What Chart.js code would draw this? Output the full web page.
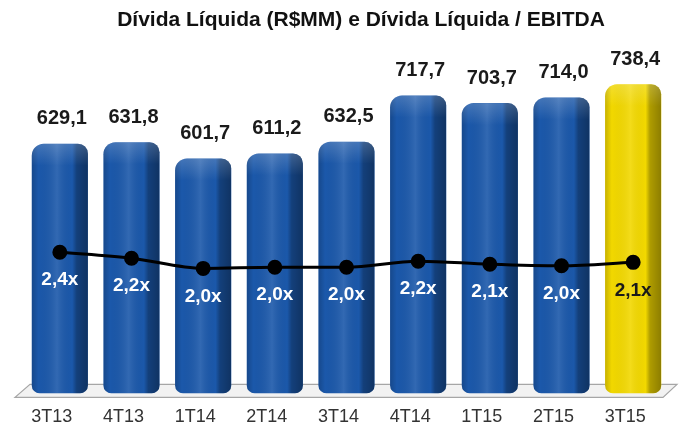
<!DOCTYPE html>
<html>
<head>
<meta charset="utf-8">
<script src="https://cdn.jsdelivr.net/npm/chart.js@4"></script>
<style>
  html, body { margin: 0; padding: 0; background: #fff; }
  #wrap { width: 685px; height: 430px; position: relative; }
</style>
</head>
<body>
<div id="wrap"><canvas id="chart" width="685" height="430"></canvas></div>
<script>
const chartTitle = "Dívida Líquida (R$MM) e Dívida Líquida / EBITDA";
const quarters = ["3T13", "4T13", "1T14", "2T14", "3T14", "4T14", "1T15", "2T15", "3T15"];
const dividaLiquida = [629.1, 631.8, 601.7, 611.2, 632.5, 717.7, 703.7, 714.0, 738.4];
const dividaEbitda = [2.40, 2.24, 1.97, 2.00, 2.00, 2.16, 2.08, 2.04, 2.13];
const dividaEbitdaLabels = ["2,4x", "2,2x", "2,0x", "2,0x", "2,0x", "2,2x", "2,1x", "2,0x", "2,1x"];

const blue = "#1b58aa";
const yellow = "#f2d800";
const barColors = quarters.map((q, i) => i === quarters.length - 1 ? yellow : blue);
const FONT = "'Liberation Sans', Arial, sans-serif";
const yMin = 170;

// floor plate under the bars
const floorPlugin = {
  id: "floor",
  beforeDatasetsDraw(chart) {
    const { ctx, chartArea } = chart;
    const b = chartArea.bottom;
    ctx.save();
    ctx.beginPath();
    ctx.moveTo(chartArea.left + 6, b - 9);
    ctx.lineTo(chartArea.right + 8, b - 9);
    ctx.lineTo(chartArea.right - 6, b + 4);
    ctx.lineTo(chartArea.left - 9, b + 4);
    ctx.closePath();
    ctx.fillStyle = "#f2f2f2";
    ctx.fill();
    ctx.strokeStyle = "#a6a6a6";
    ctx.lineWidth = 1.2;
    ctx.stroke();
    ctx.restore();
  }
};

// shading on the bars to get the 3D look
const shadePlugin = {
  id: "shade",
  afterDatasetDraw(chart, args) {
    if (args.index !== 0) return;
    const { ctx } = chart;
    args.meta.data.forEach(bar => {
      const left = bar.x - bar.width / 2;
      const right = bar.x + bar.width / 2;
      const top = bar.y;
      const bottom = Math.min(bar.base, chart.chartArea.bottom);
      ctx.save();
      ctx.beginPath();
      ctx.roundRect(left, top, bar.width, bottom - top, [12, 10, 8, 8]);
      ctx.clip();
      const g = ctx.createLinearGradient(left, 0, right, 0);
      g.addColorStop(0, "rgba(0,0,0,0.18)");
      g.addColorStop(0.12, "rgba(0,0,0,0)");
      g.addColorStop(0.45, "rgba(255,255,255,0.10)");
      g.addColorStop(0.72, "rgba(0,0,0,0)");
      g.addColorStop(0.8, "rgba(0,0,0,0.28)");
      g.addColorStop(1, "rgba(0,0,0,0.42)");
      ctx.fillStyle = g;
      ctx.fillRect(left, top, bar.width, bottom - top);
      const t = ctx.createLinearGradient(0, top, 0, top + 22);
      t.addColorStop(0, "rgba(255,255,255,0.18)");
      t.addColorStop(1, "rgba(255,255,255,0)");
      ctx.fillStyle = t;
      ctx.fillRect(left, top, bar.width, 22);
      ctx.restore();
    });
  }
};

// title, value labels above bars and ratio labels below the points
const labelPlugin = {
  id: "labels",
  afterDatasetsDraw(chart) {
    const { ctx } = chart;
    ctx.save();
    ctx.textAlign = "center";
    ctx.textBaseline = "middle";
    ctx.font = "bold 21px " + FONT;
    ctx.fillStyle = "#111";
    ctx.fillText(chartTitle, 361, 20);
    ctx.font = "bold 20px " + FONT;
    ctx.fillStyle = "#1a1a1a";
    chart.getDatasetMeta(0).data.forEach((bar, i) => {
      ctx.fillText(dividaLiquida[i].toFixed(1).replace(".", ","), bar.x + 2, bar.y - 25);
    });
    ctx.font = "bold 19px " + FONT;
    chart.getDatasetMeta(1).data.forEach((pt, i) => {
      ctx.fillStyle = i === quarters.length - 1 ? "#1a1a1a" : "#ffffff";
      ctx.fillText(dividaEbitdaLabels[i], pt.x, pt.y + 28);
    });
    ctx.restore();
  }
};

new Chart(document.getElementById("chart"), {
  type: "bar",
  data: {
    labels: quarters,
    datasets: [
      {
        type: "bar",
        label: "Dívida Líquida (R$MM)",
        data: dividaLiquida,
        backgroundColor: barColors,
        borderRadius: { topLeft: 12, topRight: 10, bottomLeft: 8, bottomRight: 8 },
        borderSkipped: false,
        base: yMin,
        categoryPercentage: 0.8,
        barPercentage: 0.98,
        yAxisID: "y",
        order: 2
      },
      {
        type: "line",
        label: "Dívida Líquida / EBITDA",
        data: dividaEbitda,
        borderColor: "#000",
        backgroundColor: "#000",
        borderWidth: 3,
        pointRadius: 6,
        pointBackgroundColor: "#000",
        tension: 0.35,
        cubicInterpolationMode: "monotone",
        yAxisID: "y2",
        order: 1
      }
    ]
  },
  options: {
    responsive: false,
    animation: false,
    devicePixelRatio: 1,
    layout: { padding: { left: 24, right: 16, top: 48, bottom: -11 } },
    plugins: {
      legend: { display: false },
      tooltip: { enabled: false },
      title: { display: false }
    },
    scales: {
      x: {
        grid: { display: false, drawTicks: false },
        border: { display: false },
        ticks: {
          color: "#333",
          padding: 13,
          labelOffset: -8,
          maxRotation: 0,
          font: { family: FONT, size: 18 }
        }
      },
      y: {
        display: false,
        min: yMin,
        max: 805
      },
      y2: {
        display: false,
        min: -1.36,
        max: 7.84
      }
    }
  },
  plugins: [floorPlugin, shadePlugin, labelPlugin]
});
</script>
</body>
</html>
